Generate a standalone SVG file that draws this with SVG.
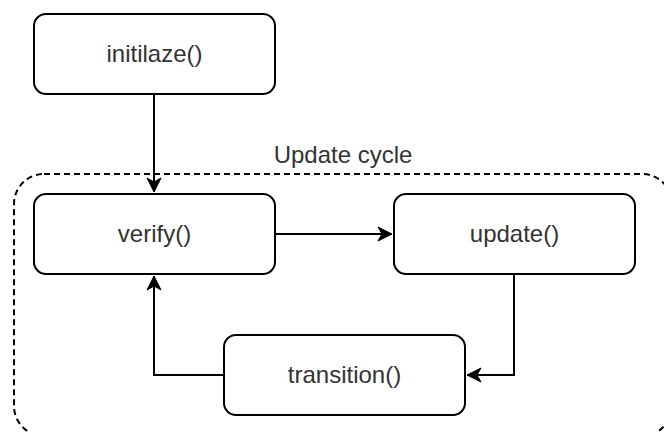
<svg xmlns="http://www.w3.org/2000/svg" width="664" height="432" viewBox="0 0 664 432">
  <style>
    .node rect { fill: #ffffff; stroke: #000000; stroke-width: 2; }
    .label { font-family: "Liberation Sans", Arial, Helvetica, sans-serif; font-size: 24px; fill: #333333; text-anchor: middle; }
    .edge { fill: none; stroke: #000000; stroke-width: 2; }
    .group { fill: none; stroke: #000000; stroke-width: 2; stroke-dasharray: 6 4; }
  </style>
  <defs>
    <marker id="arrow" markerUnits="userSpaceOnUse" viewBox="-15 -8 16 16" refX="0" refY="0" markerWidth="16" markerHeight="16" orient="auto">
      <path d="M0,0 L-14,-7 L-10,0 L-14,7 Z" fill="#000000" stroke="#000000" stroke-width="1"/>
    </marker>
  </defs>
  <rect width="664" height="432" fill="#ffffff"/>

  <!-- update cycle container -->
  <g id="update-cycle">
    <rect class="group" x="14" y="174" width="658" height="262" rx="30"/>
    <text class="label" x="343" y="163">Update cycle</text>
  </g>

  <!-- connectors -->
  <g id="connectors">
    <path class="edge" d="M154,94 L154,192" marker-end="url(#arrow)"/>
    <path class="edge" d="M275,234 L392,234" marker-end="url(#arrow)"/>
    <path class="edge" d="M514,274 L514,375 L467,375" marker-end="url(#arrow)"/>
    <path class="edge" d="M224,375 L154,375 L154,276" marker-end="url(#arrow)"/>
  </g>

  <g id="initialize" class="node">
    <rect x="34" y="14" width="241" height="80" rx="12"/>
    <text class="label" x="154.5" y="62">initilaze()</text>
  </g>
  <g id="verify" class="node">
    <rect x="34" y="194" width="241" height="80" rx="12"/>
    <text class="label" x="154.5" y="242">verify()</text>
  </g>
  <g id="update" class="node">
    <rect x="394" y="194" width="241" height="80" rx="12"/>
    <text class="label" x="514.5" y="242">update()</text>
  </g>
  <g id="transition" class="node">
    <rect x="224" y="335" width="241" height="80" rx="12"/>
    <text class="label" x="344.5" y="383">transition()</text>
  </g>
</svg>
